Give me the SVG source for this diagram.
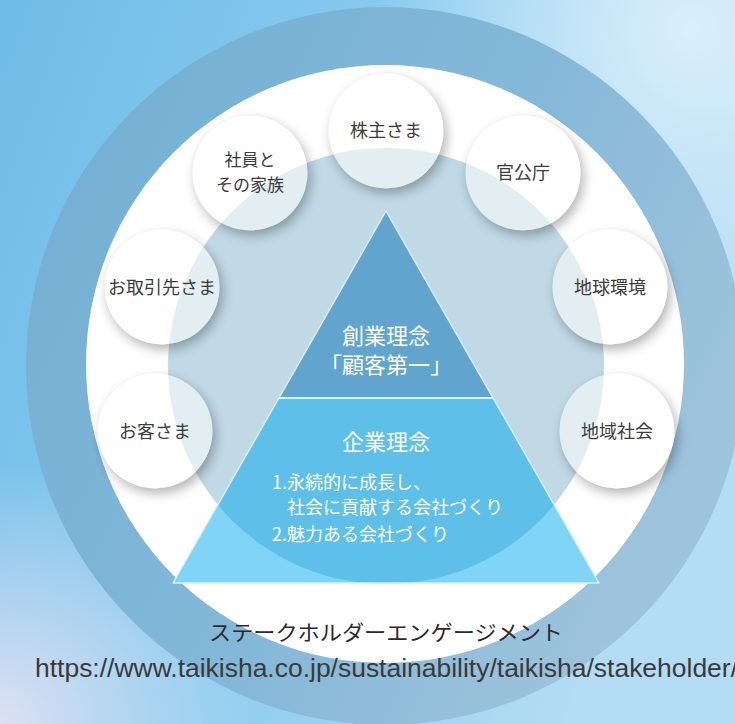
<svg xmlns="http://www.w3.org/2000/svg" width="735" height="724" viewBox="0 0 735 724">
<defs>
  <linearGradient id="bg" x1="0" y1="0" x2="1" y2="0.35">
    <stop offset="0" stop-color="#6fbce8"/>
    <stop offset="0.5" stop-color="#88cbef"/>
    <stop offset="1" stop-color="#b4dcf4"/>
  </linearGradient>
  <radialGradient id="bgTR" cx="690" cy="30" r="320" gradientUnits="userSpaceOnUse">
    <stop offset="0" stop-color="#dcf0fb" stop-opacity="0.95"/>
    <stop offset="1" stop-color="#dcf0fb" stop-opacity="0"/>
  </radialGradient>
  <radialGradient id="bgBL" cx="0" cy="724" r="260" gradientUnits="userSpaceOnUse">
    <stop offset="0" stop-color="#e2e2f3" stop-opacity="0.95"/>
    <stop offset="1" stop-color="#e2e2f3" stop-opacity="0"/>
  </radialGradient>
  <linearGradient id="ring" x1="0" y1="0" x2="1" y2="0.5">
    <stop offset="0" stop-color="#70aed3"/>
    <stop offset="0.6" stop-color="#84b8d8"/>
    <stop offset="1" stop-color="#9ec3dc"/>
  </linearGradient>
  <filter id="sh" x="-40%" y="-40%" width="180%" height="180%">
    <feGaussianBlur in="SourceAlpha" stdDeviation="6"/>
    <feOffset dx="3" dy="5" result="b"/>
    <feComposite in="b" in2="SourceAlpha" operator="out" result="o"/>
    <feComponentTransfer in="o"><feFuncA type="linear" slope="0.3"/></feComponentTransfer>
  </filter>
  <clipPath id="innerClip"><circle cx="386" cy="366" r="218"/></clipPath>
  <style>
    .shadow { fill: #000; }
    .node { fill: #ffffff; fill-opacity: 0.55; }
    .lbl { font-family: "Noto Sans CJK JP", "Noto Sans", sans-serif; font-size: 18px; fill: #3c3c3c; text-anchor: middle; }
    .lbl2 { font-size: 17px; }
    .tri-title { font-family: "Noto Sans CJK JP", "Noto Sans", sans-serif; font-size: 22px; fill: #ffffff; text-anchor: middle; }
    .tri-body { font-family: "Noto Sans CJK JP", "Noto Sans", sans-serif; font-size: 18px; fill: #ffffff; }
  </style>
</defs>

<!-- background -->
<rect width="735" height="724" fill="url(#bg)"/>
<rect width="735" height="724" fill="url(#bgTR)"/>
<rect width="735" height="724" fill="url(#bgBL)"/>

<!-- rings -->
<circle cx="385" cy="366" r="359" fill="url(#ring)"/>
<circle cx="385" cy="364" r="299" fill="#ffffff"/>
<circle cx="386" cy="366" r="218" fill="#c0d9e5"/>

<!-- philosophy pyramid -->
<g id="pyramid">
  <polygon points="279,398 493,398 599,583 173,583" fill="#80d4f6"/>
  <polygon points="279,398 493,398 599,583 173,583" fill="#5ec0e8" clip-path="url(#innerClip)"/>
  <polygon points="386,211 493,398 279,398" fill="#61a5cf"/>
  <polygon points="386,211 599,583 173,583" fill="none" stroke="#d6eef9" stroke-width="1.5" stroke-linejoin="round"/>
  <line x1="279" y1="398" x2="493" y2="398" stroke="#e4f4fb" stroke-width="2"/>
  <text class="tri-title" x="386" y="344">創業理念</text>
  <text class="tri-title" x="386" y="373">「顧客第一」</text>
  <text class="tri-title" x="386" y="450">企業理念</text>
  <text class="tri-body"><tspan x="272" y="489">1.永続的に成長し、</tspan><tspan x="287" y="514">社会に貢献する会社づくり</tspan><tspan x="272" y="541">2.魅力ある会社づくり</tspan></text>
</g>

<!-- stakeholders -->
<g id="shareholders">
  <circle class="shadow" cx="386" cy="131" r="57.5" filter="url(#sh)"/>
  <circle class="node" cx="386" cy="131" r="57.5"/>
  <text class="lbl" x="386" y="137">株主さま</text>
</g>
<g id="employees">
  <circle class="shadow" cx="250" cy="173" r="57.5" filter="url(#sh)"/>
  <circle class="node" cx="250" cy="173" r="57.5"/>
  <text class="lbl lbl2" x="250" y="166">社員と</text>
  <text class="lbl lbl2" x="250" y="191">その家族</text>
</g>
<g id="government">
  <circle class="shadow" cx="523" cy="173" r="57.5" filter="url(#sh)"/>
  <circle class="node" cx="523" cy="173" r="57.5"/>
  <text class="lbl" x="523" y="179">官公庁</text>
</g>
<g id="partners">
  <circle class="shadow" cx="162" cy="287" r="57.5" filter="url(#sh)"/>
  <circle class="node" cx="162" cy="287" r="57.5"/>
  <text class="lbl" x="162" y="294">お取引先さま</text>
</g>
<g id="environment">
  <circle class="shadow" cx="610" cy="287" r="57.5" filter="url(#sh)"/>
  <circle class="node" cx="610" cy="287" r="57.5"/>
  <text class="lbl" x="610" y="294">地球環境</text>
</g>
<g id="customers">
  <circle class="shadow" cx="155" cy="431" r="57.5" filter="url(#sh)"/>
  <circle class="node" cx="155" cy="431" r="57.5"/>
  <text class="lbl" x="155" y="438">お客さま</text>
</g>
<g id="community">
  <circle class="shadow" cx="617" cy="431" r="57.5" filter="url(#sh)"/>
  <circle class="node" cx="617" cy="431" r="57.5"/>
  <text class="lbl" x="617" y="438">地域社会</text>
</g>

<g id="connectors"></g>

<!-- captions -->
<text x="386" y="640" font-family="Noto Sans CJK JP, sans-serif" font-size="21" fill="#2a2a2a" text-anchor="middle" textLength="354" lengthAdjust="spacingAndGlyphs">ステークホルダーエンゲージメント</text>
<text x="35" y="677" font-family="Liberation Sans, Arial, sans-serif" font-size="25" fill="#3a3a3a" textLength="703" lengthAdjust="spacingAndGlyphs">https://www.taikisha.co.jp/sustainability/taikisha/stakeholder/</text>
</svg>
